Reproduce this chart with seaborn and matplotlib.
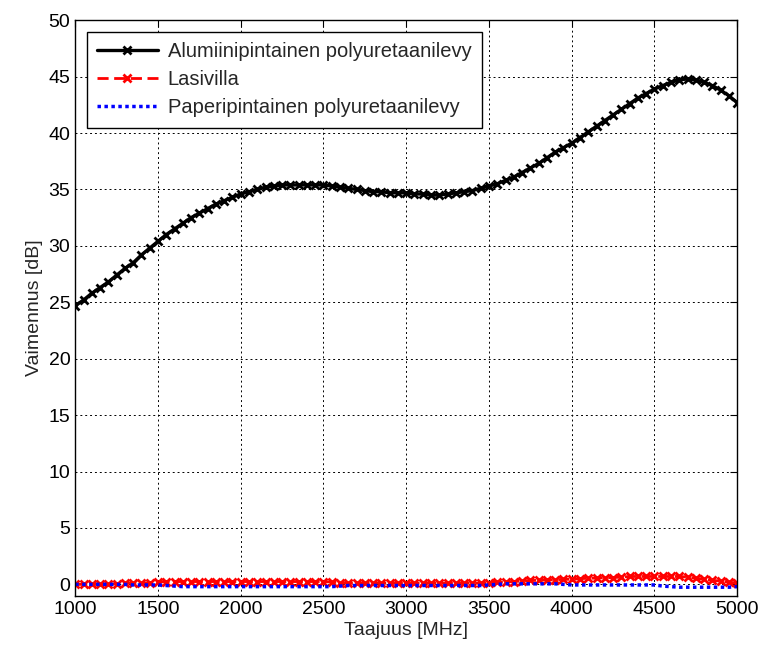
import numpy as np
import pandas as pd
import matplotlib
matplotlib.use('Agg')
import matplotlib.pyplot as plt
import seaborn as sns

freq = list(range(1000, 5001, 50))

alumiini = [24.7, 25.2, 25.8, 26.3, 26.8, 27.4, 28.0, 28.5, 29.2, 29.8,
            30.4, 31.0, 31.5, 32.0, 32.5, 32.9, 33.3, 33.7, 34.0, 34.3,
            34.6, 34.8, 35.0, 35.2, 35.3, 35.4, 35.4, 35.4, 35.4, 35.4,
            35.4, 35.3, 35.2, 35.1, 35.0, 34.9, 34.8, 34.8, 34.7, 34.7,
            34.7, 34.6, 34.6, 34.5, 34.5, 34.6, 34.7, 34.8, 34.9, 35.1,
            35.3, 35.5, 35.8, 36.1, 36.5, 36.9, 37.3, 37.8, 38.3, 38.7,
            39.1, 39.6, 40.1, 40.6, 41.1, 41.6, 42.1, 42.6, 43.1, 43.5,
            43.9, 44.2, 44.5, 44.7, 44.8, 44.7, 44.5, 44.2, 43.8, 43.3,
            42.7]

lasivilla = [0.0, 0.0, 0.0, 0.0, 0.0, 0.05, 0.1, 0.1, 0.1, 0.15,
             0.2, 0.25, 0.25, 0.25, 0.25, 0.25, 0.25, 0.25, 0.25, 0.25,
             0.25, 0.25, 0.25, 0.25, 0.25, 0.25, 0.25, 0.25, 0.25, 0.25,
             0.25, 0.2, 0.15, 0.1, 0.1, 0.1, 0.1, 0.1, 0.1, 0.1,
             0.1, 0.1, 0.1, 0.1, 0.1, 0.1, 0.1, 0.1, 0.1, 0.1,
             0.15, 0.2, 0.2, 0.25, 0.3, 0.35, 0.35, 0.4, 0.4, 0.45,
             0.45, 0.5, 0.55, 0.55, 0.6, 0.6, 0.65, 0.7, 0.7, 0.7,
             0.7, 0.7, 0.7, 0.7, 0.65, 0.55, 0.45, 0.35, 0.3, 0.2,
             0.1]

paperi = [0.0, 0.0, 0.0, 0.0, 0.0, 0.0, 0.0, -0.05, -0.05, -0.05,
          -0.05, -0.1, -0.15, -0.2, -0.2, -0.2, -0.2, -0.2, -0.2, -0.2,
          -0.2, -0.2, -0.2, -0.2, -0.2, -0.2, -0.2, -0.2, -0.2, -0.2,
          -0.2, -0.2, -0.15, -0.1, -0.1, -0.1, -0.1, -0.1, -0.1, -0.1,
          -0.1, -0.1, -0.1, -0.1, -0.1, -0.1, -0.1, -0.1, -0.1, -0.1,
          -0.05, 0.0, 0.05, 0.05, 0.05, 0.05, 0.05, 0.05, 0.05, 0.0,
          -0.05, -0.05, -0.05, -0.05, -0.05, -0.05, -0.05, -0.05, -0.05, -0.05,
          -0.05, -0.15, -0.2, -0.25, -0.25, -0.25, -0.25, -0.25, -0.25, -0.25,
          -0.2]

labels = ['Alumiinipintainen polyuretaanilevy', 'Lasivilla',
          'Paperipintainen polyuretaanilevy']

sns.set_style('white')
plt.rcParams['font.family'] = ['Liberation Sans', 'DejaVu Sans']

fig = plt.figure(figsize=(7.6, 6.51), dpi=100)
ax = fig.add_axes([0.099, 0.085, 0.871, 0.884])

sns.lineplot(x=freq, y=alumiini, ax=ax, color='black', linewidth=2.4,
             marker='x', markersize=6, markeredgewidth=2,
             markeredgecolor='black', label=labels[0])
sns.lineplot(x=freq, y=lasivilla, ax=ax, color='red', linewidth=2,
             linestyle=(0, (4, 2)), marker='x', markersize=6,
             markeredgewidth=2, markeredgecolor='red', label=labels[1])
sns.lineplot(x=freq, y=paperi, ax=ax, color='blue', linewidth=2.5,
             linestyle=(0, (1, 1)), label=labels[2])

ax.set_xlim(1000, 5000)
ax.set_ylim(-1, 50)
ax.set_xticks(range(1000, 5001, 500))
ax.set_yticks(range(0, 51, 5))
ax.set_axisbelow(True)
ax.grid(True, color='black', linestyle=(0, (2, 3)), linewidth=0.7)
ax.tick_params(direction='in', top=True, right=True, length=5,
               labelsize=14, colors='black')
for s in ax.spines.values():
    s.set_color('black')
    s.set_linewidth(1)

ax.set_xlabel('Taajuus [MHz]', fontsize=14, labelpad=3)
ax.set_ylabel('Vaimennus [dB]', fontsize=14)

leg = ax.legend(loc='upper left', bbox_to_anchor=(0.018, 0.979),
                borderaxespad=0, fontsize=14.5, frameon=True, fancybox=False,
                handlelength=3.0, borderpad=0.5, labelspacing=0.45,
                handletextpad=0.5)
leg.get_frame().set_edgecolor('black')
leg.get_frame().set_linewidth(1)
leg.get_frame().set_alpha(1)

fig.savefig('out.png', dpi=100)
